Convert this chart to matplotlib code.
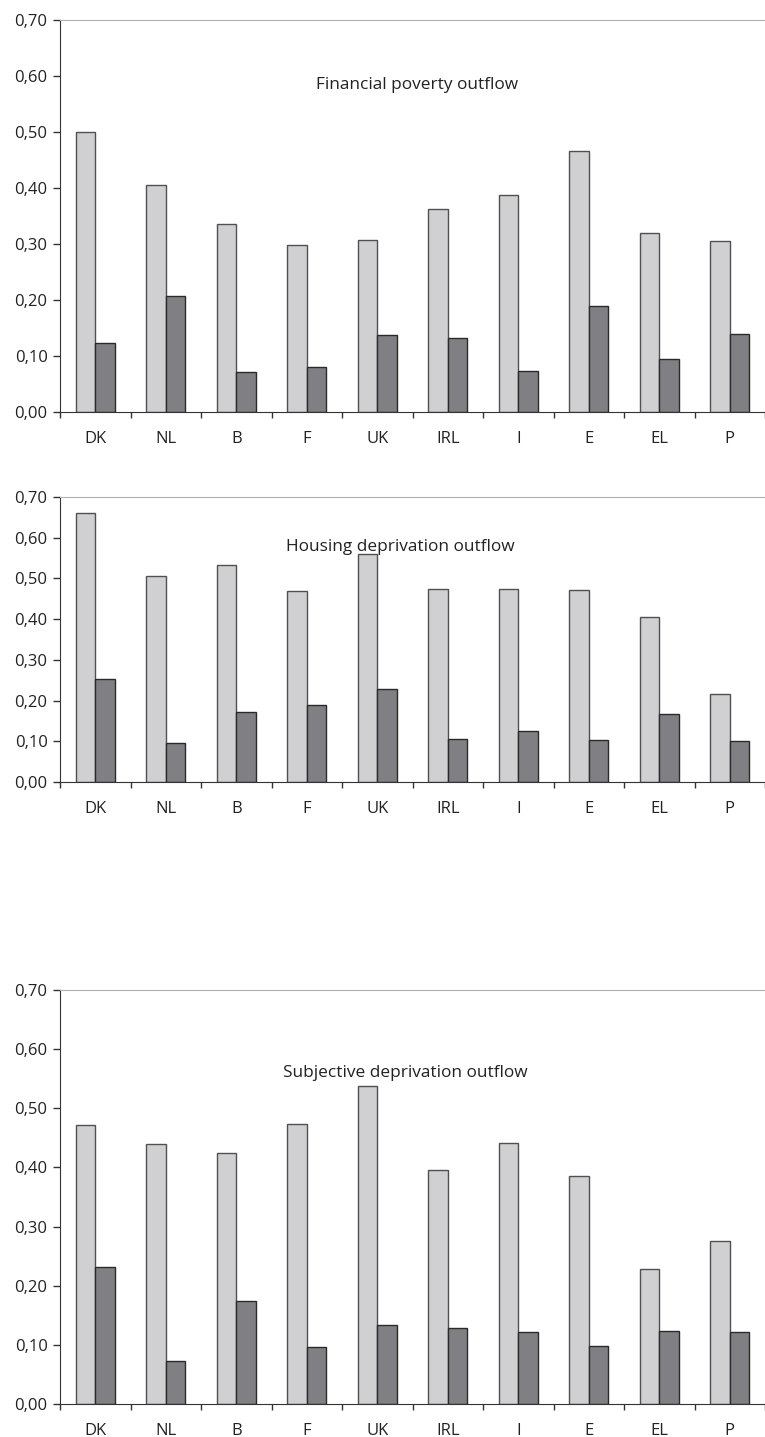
import matplotlib.pyplot as plt
import numpy as np

plt.rcParams['font.family'] = ['Open Sans', 'DejaVu Sans']

countries = ["DK", "NL", "B", "F", "UK", "IRL", "I", "E", "EL", "P"]
yticks = [0.0, 0.1, 0.2, 0.3, 0.4, 0.5, 0.6, 0.7]

titles = ["Financial poverty outflow",
          "Housing deprivation outflow",
          "Subjective deprivation outflow"]

financial_light = [0.500, 0.405, 0.335, 0.299, 0.308, 0.362, 0.387, 0.466, 0.320, 0.306]
financial_dark = [0.124, 0.207, 0.072, 0.081, 0.138, 0.133, 0.073, 0.190, 0.095, 0.140]

housing_light = [0.660, 0.505, 0.534, 0.470, 0.560, 0.474, 0.474, 0.472, 0.405, 0.217]
housing_dark = [0.253, 0.096, 0.171, 0.190, 0.229, 0.106, 0.125, 0.103, 0.166, 0.100]

subjective_light = [0.471, 0.440, 0.425, 0.474, 0.537, 0.395, 0.441, 0.386, 0.229, 0.276]
subjective_dark = [0.232, 0.072, 0.174, 0.097, 0.134, 0.129, 0.122, 0.098, 0.124, 0.121]

panels = [(financial_light, financial_dark),
          (housing_light, housing_dark),
          (subjective_light, subjective_dark)]

W, H = 765, 1437
fig = plt.figure(figsize=(W / 100, H / 100), dpi=100)

# (top px, bottom px, title x px, title y px)
boxes = [(20, 412, 417, 85), (497, 782, 400, 547), (990, 1404, 405, 1073)]
left_px, right_px = 60, 765

x = np.arange(len(countries))
bw = 0.28

for (light, dark), title, (top, bot, tx, ty) in zip(panels, titles, boxes):
    ax = fig.add_axes([left_px / W, 1 - bot / H, (right_px - left_px) / W, (bot - top) / H])
    ax.bar(x - bw / 2, light, bw, color="#d0d0d2", edgecolor="#505050", linewidth=1)
    ax.bar(x + bw / 2, dark, bw, color="#808084", edgecolor="#2a2a2a", linewidth=1)
    ax.set_xlim(-0.5, len(countries) - 0.5)
    ax.set_ylim(0, 0.70)
    ax.set_yticks(yticks)
    ax.set_yticklabels([f"{v:.2f}".replace(".", ",") for v in yticks], fontsize=12, color="#222222")
    ax.set_xticks(x)
    ax.set_xticklabels(countries, fontsize=12, color="#222222")
    ax.set_xticks(np.arange(-0.5, len(countries), 1), minor=True)
    ax.tick_params(axis="x", which="major", length=0, pad=14)
    ax.tick_params(axis="x", which="minor", length=4, width=1, color="#333333", direction="out")
    ax.tick_params(axis="y", length=5, width=1, color="#333333", pad=4)
    ax.spines["right"].set_visible(False)
    ax.spines["top"].set_color("#b0b0b0")
    ax.spines["left"].set_color("#333333")
    ax.spines["bottom"].set_color("#333333")
    fig.text(tx / W, 1 - ty / H, title, ha="center", va="center", fontsize=12.4, color="#222222")

fig.savefig("out.png", dpi=100)
